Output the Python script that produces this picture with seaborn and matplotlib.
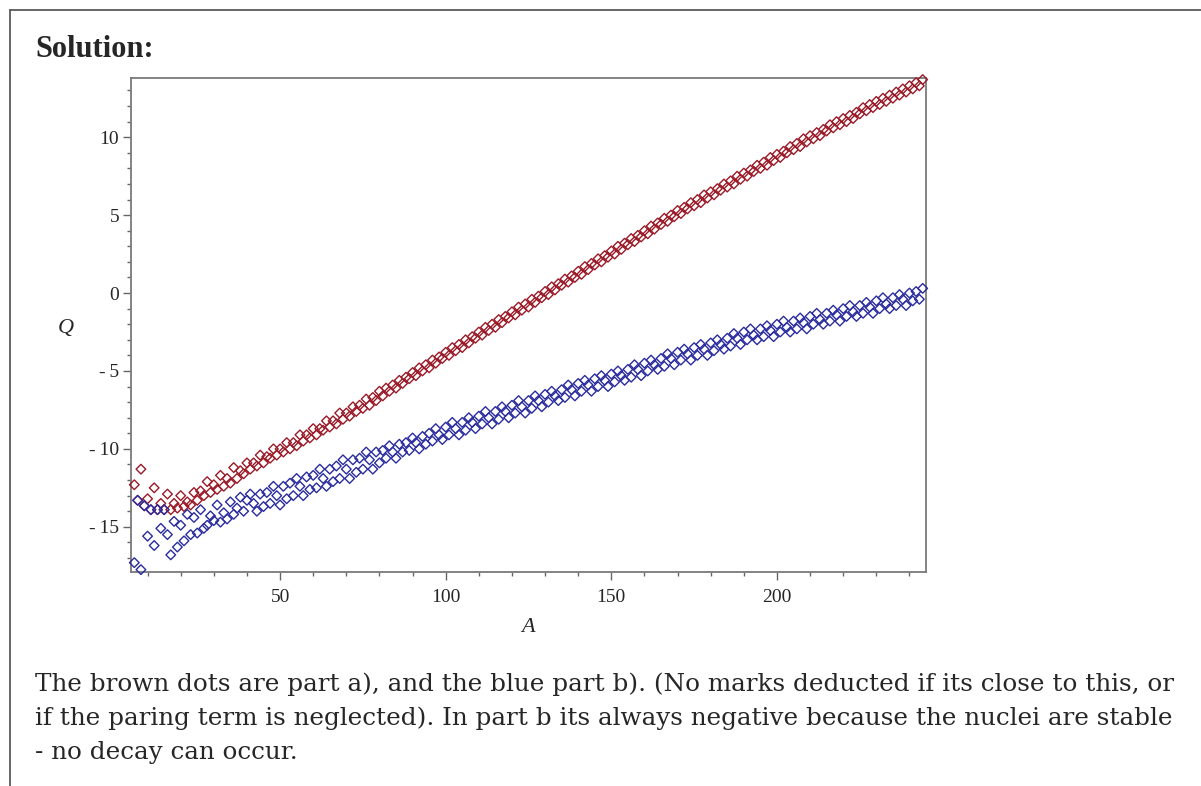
import matplotlib
matplotlib.use("Agg")
import matplotlib.pyplot as plt
import seaborn as sns
from matplotlib.lines import Line2D
from matplotlib.ticker import MultipleLocator, FuncFormatter

sns.set_style("white")
serif = ["Liberation Serif", "Tinos", "Times New Roman", "STIXGeneral", "DejaVu Serif"]
plt.rcParams["font.family"] = serif

# ---- data ----
# part a) (brown), one point per A = 6 .. 244
a_brown = list(range(6, 245))
q_brown = [
    -12.3, -13.3, -11.3, -13.65, -13.2, -13.9, -12.5, -13.9, -13.5, -13.9,
    -12.9, -13.9, -13.5, -13.8, -13.0, -13.7, -13.4, -13.6, -12.8, -13.3,
    -12.7, -13.0, -12.1, -12.8, -12.3, -12.6, -11.7, -12.4, -11.9, -12.2,
    -11.2, -11.9, -11.4, -11.6, -10.9, -11.3, -10.9, -11.1, -10.4, -10.9,
    -10.5, -10.6, -10.0, -10.4, -10.0, -10.2, -9.6, -10.0, -9.6, -9.8,
    -9.1, -9.5, -9.1, -9.3, -8.7, -9.1, -8.7, -8.8, -8.2, -8.6,
    -8.2, -8.4, -7.7, -8.1, -7.7, -7.9, -7.3, -7.6, -7.2, -7.4,
    -6.8, -7.2, -6.7, -6.9, -6.3, -6.6, -6.1, -6.3, -5.9, -6.1,
    -5.6, -5.8, -5.4, -5.5, -5.1, -5.3, -4.8, -5.0, -4.6, -4.8,
    -4.3, -4.5, -4.1, -4.2, -3.8, -4.0, -3.5, -3.7, -3.3, -3.5,
    -3.0, -3.2, -2.8, -2.9, -2.5, -2.7, -2.2, -2.4, -2.0, -2.2,
    -1.7, -1.9, -1.5, -1.6, -1.2, -1.4, -0.9, -1.1, -0.7, -0.9,
    -0.4, -0.6, -0.2, -0.3, 0.1, -0.1, 0.4, 0.2, 0.6, 0.5,
    0.9, 0.7, 1.1, 1.0, 1.4, 1.2, 1.7, 1.5, 1.9, 1.8,
    2.2, 2.0, 2.4, 2.3, 2.7, 2.5, 3.0, 2.8, 3.2, 3.1,
    3.5, 3.3, 3.7, 3.6, 4.0, 3.8, 4.3, 4.1, 4.5, 4.4,
    4.8, 4.6, 5.0, 4.9, 5.3, 5.1, 5.5, 5.4, 5.8, 5.6,
    6.0, 5.8, 6.3, 6.1, 6.5, 6.3, 6.7, 6.6, 7.0, 6.8,
    7.2, 7.0, 7.5, 7.3, 7.7, 7.5, 7.9, 7.8, 8.2, 8.0,
    8.4, 8.2, 8.7, 8.5, 8.9, 8.7, 9.1, 9.0, 9.4, 9.2,
    9.6, 9.4, 9.9, 9.7, 10.1, 9.9, 10.3, 10.1, 10.5, 10.4,
    10.8, 10.6, 11.0, 10.8, 11.2, 11.0, 11.4, 11.2, 11.6, 11.5,
    11.9, 11.7, 12.1, 11.9, 12.3, 12.1, 12.5, 12.3, 12.7, 12.5,
    12.9, 12.7, 13.1, 12.9, 13.3, 13.1, 13.5, 13.3, 13.7,
]

# part b) (blue), one point per A = 6 .. 244
a_blue = list(range(6, 245))
q_blue = [
    -17.3, -13.3, -17.75, -13.65, -15.6, -13.9, -16.2, -13.9, -15.1, -13.9,
    -15.5, -16.8, -14.65, -16.3, -14.9, -15.9, -14.2, -15.5, -14.4, -15.4,
    -13.9, -15.1, -14.9, -14.3, -14.6, -13.6, -14.7, -14.1, -14.5, -13.4,
    -14.2, -13.8, -13.1, -14.0, -13.3, -12.9, -13.5, -14.0, -12.9, -13.7,
    -12.8, -13.5, -12.4, -13.0, -13.6, -12.4, -13.2, -12.2, -13.0, -11.9,
    -12.4, -13.0, -11.8, -12.6, -11.7, -12.5, -11.3, -11.9, -12.4, -11.3,
    -12.1, -11.1, -11.9, -10.7, -11.3, -11.9, -10.7, -11.5, -10.6, -11.3,
    -10.2, -10.7, -11.3, -10.2, -10.9, -10.1, -10.6, -9.8, -10.2, -10.6,
    -9.7, -10.2, -9.6, -10.1, -9.3, -9.6, -10.0, -9.2, -9.7, -9.0,
    -9.5, -8.7, -9.1, -9.4, -8.6, -9.1, -8.3, -8.7, -9.1, -8.3,
    -8.8, -8.0, -8.3, -8.7, -7.9, -8.4, -7.6, -8.0, -8.4, -7.6,
    -8.1, -7.3, -7.6, -8.0, -7.2, -7.7, -6.9, -7.3, -7.7, -6.9,
    -7.4, -6.6, -6.9, -7.3, -6.5, -7.0, -6.3, -6.6, -6.9, -6.2,
    -6.7, -5.9, -6.2, -6.6, -5.8, -6.3, -5.6, -5.9, -6.3, -5.5,
    -6.0, -5.3, -5.6, -6.0, -5.2, -5.7, -5.0, -5.3, -5.6, -4.9,
    -5.4, -4.6, -4.9, -5.3, -4.5, -5.0, -4.3, -4.6, -4.9, -4.2,
    -4.7, -3.9, -4.2, -4.6, -3.8, -4.3, -3.6, -3.9, -4.3, -3.5,
    -4.0, -3.3, -3.6, -4.0, -3.2, -3.7, -3.0, -3.3, -3.6, -2.9,
    -3.4, -2.6, -2.9, -3.3, -2.5, -3.0, -2.3, -2.7, -3.0, -2.3,
    -2.8, -2.1, -2.4, -2.8, -2.0, -2.5, -1.8, -2.2, -2.5, -1.8,
    -2.3, -1.6, -1.9, -2.3, -1.5, -2.0, -1.3, -1.7, -2.0, -1.3,
    -1.8, -1.1, -1.4, -1.8, -1.0, -1.5, -0.8, -1.2, -1.5, -0.8,
    -1.3, -0.6, -0.9, -1.3, -0.5, -1.0, -0.3, -0.7, -1.0, -0.3,
    -0.8, -0.1, -0.4, -0.8, 0.0, -0.5, 0.1, -0.4, 0.3,
]

heading = "Solution:"
caption = [
    "The brown dots are part a), and the blue part b). (No marks deducted if its close to this, or",
    "if the paring term is neglected). In part b its always negative because the nuclei are stable",
    "- no decay can occur.",
]

brown = "#9a1a28"
blue = "#2a2c9e"
W, H = 1201, 786

fig = plt.figure(figsize=(W / 100, H / 100), dpi=100)

# page frame (top and left rule)
fig.add_artist(Line2D([10 / W, 1], [1 - 10 / H, 1 - 10 / H], color="#5a5a5a", lw=1.3))
fig.add_artist(Line2D([10 / W, 10 / W], [0, 1 - 10 / H], color="#5a5a5a", lw=1.3))

fig.text(35 / W, 1 - 57 / H, heading, fontsize=22, fontweight="bold",
         family=serif, va="baseline")

ax = fig.add_axes([131 / W, 1 - 572 / H, (926 - 131) / W, (572 - 78) / H])

for xs, ys, col in [(a_brown, q_brown, brown), (a_blue, q_blue, blue)]:
    sns.scatterplot(x=xs, y=ys, marker="D", s=24, facecolor="none",
                    edgecolor=col, linewidth=1.0, ax=ax,
                    legend=False, clip_on=False, zorder=3)

ax.set_xlim(5, 245)
ax.set_ylim(-17.9, 13.8)
ax.xaxis.set_major_locator(MultipleLocator(50))
ax.xaxis.set_minor_locator(MultipleLocator(10))
ax.yaxis.set_major_locator(MultipleLocator(5))
ax.yaxis.set_minor_locator(MultipleLocator(1))


def maple_fmt(v, pos):
    v = int(round(v))
    return f"-\u2009{abs(v)}" if v < 0 else f"{v}"


ax.yaxis.set_major_formatter(FuncFormatter(maple_fmt))
ax.tick_params(which="major", direction="out", length=6, width=1,
               color="#666666", labelsize=14, left=True, bottom=True)
ax.tick_params(which="minor", direction="out", length=3, width=1,
               color="#666666", left=True, bottom=True)
ax.tick_params(axis="y", pad=2.5)
ax.tick_params(axis="x", pad=6)
for sp in ax.spines.values():
    sp.set_color("#7a7a7a")
    sp.set_linewidth(1.3)
ax.set_xlabel("")
ax.set_ylabel("")

fig.text(66 / W, 1 - 329 / H, "Q", fontsize=16, style="italic", family=serif,
         ha="center", va="center")
fig.text(528 / W, 1 - 628 / H, "A", fontsize=16, style="italic", family=serif,
         ha="center", va="center")

for i, line in enumerate(caption):
    fig.text(35 / W, 1 - (691 + 34 * i) / H, line, fontsize=17.7,
             family=["DejaVu Serif"], va="baseline")

fig.savefig("out.png", dpi=100)
